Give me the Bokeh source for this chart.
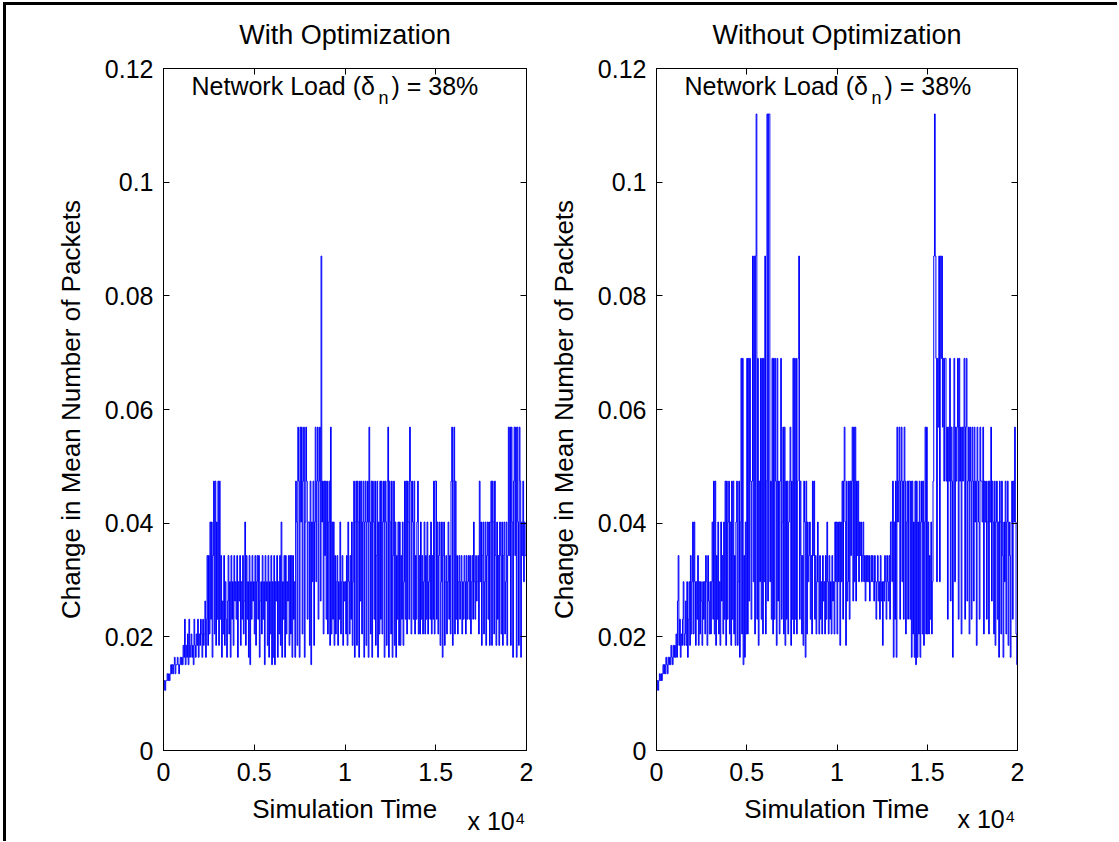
import numpy as np
from bokeh.plotting import figure
from bokeh.models import FixedTicker, LinearAxis, Label, Range1d
from bokeh.layouts import row
from bokeh.embed import file_html
from bokeh.resources import INLINE

# quantised levels of the change in mean number of packets
LEVELS = [0.0106, 0.0123, 0.0135, 0.0151, 0.0164, 0.0185, 0.0205, 0.0231, 0.0263,
          0.0297, 0.0343, 0.0402, 0.0474, 0.0569, 0.0690, 0.0870, 0.1120]

# level index per sample (25 samples per 1000 time units)
WITH_OPT_IDX = [
    0, 1, 0, 1, 1, 2, 1, 2, 1, 2, 3, 2, 3, 2, 3, 4, 2, 3, 3, 4, 3, 2, 3, 4, 3,
    4, 3, 5, 4, 7, 3, 5, 4, 6, 3, 7, 4, 5, 6, 4, 5, 3, 7, 5, 4, 6, 5, 7, 4, 6,
    5, 7, 6, 4, 7, 5, 6, 8, 4, 7, 10, 5, 10, 6, 11, 7, 11, 4, 10, 12, 6, 12, 5, 11, 7,
    12, 5, 12, 7, 10, 4, 8, 6, 10, 5, 9, 7, 4, 8, 10, 6, 9, 4, 10, 7, 9, 5, 10, 8, 9,
    7, 10, 4, 9, 8, 10, 5, 9, 7, 10, 6, 8, 11, 5, 10, 7, 9, 4, 10, 3, 9, 7, 10, 8, 9,
    6, 10, 5, 9, 10, 7, 10, 4, 8, 9, 6, 10, 7, 9, 3, 10, 8, 9, 5, 10, 4, 9, 6, 10, 3,
    9, 4, 10, 3, 9, 8, 10, 4, 9, 6, 10, 5, 11, 4, 9, 7, 10, 4, 10, 6, 9, 8, 10, 5, 10,
    6, 10, 4, 10, 7, 9, 4, 12, 11, 5, 13, 12, 4, 13, 11, 13, 6, 12, 13, 4, 11, 13, 12, 7, 11,
    11, 5, 12, 3, 11, 9, 12, 5, 11, 13, 9, 12, 13, 7, 12, 13, 8, 15, 11, 12, 6, 12, 10, 12, 7,
    12, 6, 11, 12, 5, 13, 6, 11, 7, 11, 5, 10, 6, 9, 10, 5, 9, 7, 11, 6, 9, 10, 5, 9, 8,
    9, 6, 10, 5, 11, 9, 6, 10, 7, 11, 5, 9, 12, 4, 11, 12, 5, 12, 11, 4, 12, 8, 12, 6, 11,
    12, 4, 11, 12, 5, 11, 12, 4, 13, 11, 6, 12, 4, 12, 11, 7, 12, 5, 10, 12, 4, 11, 6, 12, 7,
    12, 6, 11, 12, 4, 12, 11, 5, 12, 13, 4, 12, 11, 6, 12, 4, 10, 12, 5, 11, 4, 10, 7, 11, 5,
    11, 5, 10, 7, 11, 5, 9, 12, 7, 12, 6, 12, 11, 7, 13, 12, 6, 12, 11, 7, 12, 6, 10, 7, 11,
    12, 6, 10, 6, 11, 7, 10, 6, 9, 11, 6, 10, 7, 11, 6, 9, 10, 7, 11, 6, 10, 7, 12, 6, 12,
    12, 7, 11, 6, 10, 11, 5, 9, 11, 4, 10, 11, 5, 9, 10, 6, 9, 11, 7, 10, 6, 12, 13, 5, 12,
    13, 6, 12, 7, 10, 6, 9, 10, 7, 9, 10, 6, 9, 7, 10, 9, 6, 10, 7, 9, 10, 7, 10, 6, 9,
    10, 7, 11, 9, 7, 10, 8, 9, 10, 6, 12, 9, 11, 5, 10, 11, 6, 9, 11, 5, 10, 11, 7, 11, 5,
    11, 12, 5, 12, 11, 6, 12, 10, 5, 11, 7, 10, 5, 11, 10, 6, 11, 5, 10, 11, 6, 9, 11, 5, 10,
    13, 10, 13, 5, 13, 11, 4, 12, 13, 10, 13, 4, 13, 11, 5, 13, 12, 4, 11, 10, 12, 9, 11, 10, 10,
]

WITHOUT_OPT_IDX = [
    0, 1, 0, 1, 2, 1, 2, 1, 2, 3, 2, 3, 2, 4, 3, 2, 4, 3, 4, 3, 5, 4, 3, 5, 4,
    5, 4, 6, 4, 8, 10, 5, 7, 4, 6, 5, 7, 9, 5, 6, 8, 5, 9, 4, 7, 9, 5, 10, 6, 9,
    11, 6, 11, 9, 5, 9, 7, 10, 5, 9, 6, 9, 8, 5, 9, 7, 9, 6, 10, 9, 5, 10, 8, 6, 9,
    6, 9, 11, 7, 12, 6, 12, 5, 10, 7, 11, 6, 9, 5, 11, 8, 10, 6, 11, 7, 12, 5, 12, 7, 11,
    12, 6, 11, 5, 12, 7, 12, 6, 10, 5, 11, 12, 5, 9, 12, 4, 11, 14, 6, 14, 3, 10, 4, 11, 6,
    14, 6, 14, 8, 14, 12, 7, 12, 15, 9, 15, 6, 15, 16, 7, 14, 5, 12, 9, 14, 7, 14, 6, 14, 9,
    15, 6, 12, 16, 8, 16, 16, 9, 12, 7, 14, 6, 14, 7, 14, 12, 5, 14, 8, 12, 6, 12, 14, 7, 11,
    13, 6, 13, 5, 12, 7, 12, 6, 11, 12, 13, 5, 12, 7, 14, 6, 14, 7, 14, 6, 12, 14, 15, 7, 12,
    10, 6, 10, 5, 12, 11, 4, 12, 6, 11, 9, 10, 11, 7, 10, 6, 12, 10, 12, 7, 10, 6, 9, 11, 9,
    6, 10, 7, 9, 6, 10, 8, 9, 6, 10, 7, 11, 9, 6, 10, 7, 9, 6, 10, 8, 9, 6, 11, 9, 11,
    6, 11, 9, 11, 5, 11, 9, 12, 7, 12, 13, 11, 5, 12, 8, 9, 12, 7, 12, 10, 12, 13, 8, 13, 9,
    13, 8, 12, 10, 12, 9, 11, 10, 11, 9, 10, 11, 9, 10, 8, 10, 9, 10, 9, 10, 8, 9, 10, 9, 10,
    9, 8, 10, 9, 7, 9, 10, 8, 9, 7, 10, 8, 9, 5, 9, 8, 10, 9, 7, 10, 9, 8, 10, 7, 11,
    11, 9, 12, 4, 11, 7, 12, 4, 13, 11, 12, 13, 7, 12, 13, 9, 12, 7, 13, 12, 6, 11, 12, 7, 12,
    12, 7, 12, 4, 12, 6, 11, 4, 12, 3, 12, 4, 11, 6, 12, 4, 11, 12, 6, 12, 5, 11, 13, 6, 13,
    6, 11, 6, 10, 7, 11, 6, 9, 12, 15, 16, 15, 14, 9, 14, 13, 15, 9, 15, 14, 15, 13, 14, 12, 14,
    14, 12, 13, 7, 13, 12, 14, 8, 13, 12, 4, 13, 14, 9, 13, 12, 13, 14, 7, 14, 12, 13, 6, 13, 12,
    13, 14, 7, 13, 14, 8, 12, 13, 6, 13, 12, 7, 13, 12, 8, 13, 11, 12, 5, 13, 12, 11, 7, 13, 12,
    12, 11, 13, 6, 12, 11, 12, 7, 11, 12, 6, 12, 11, 13, 8, 12, 11, 6, 12, 5, 11, 12, 7, 11, 4,
    12, 11, 6, 12, 10, 4, 11, 9, 12, 6, 11, 12, 5, 11, 10, 4, 11, 12, 7, 12, 11, 13, 11, 6, 3,
]

T_END = 20000
X_TICKS = [0, 5000, 10000, 15000, 20000]
X_TICK_LABELS = ["0", "0.5", "1", "1.5", "2"]
Y_TICKS = [0, 0.02, 0.04, 0.06, 0.08, 0.10, 0.12]
Y_TICK_LABELS = ["0", "0.02", "0.04", "0.06", "0.08", "0.1", "0.12"]

TITLES = ["With Optimization", "Without Optimization"]
X_LABEL = "Simulation Time"
X_SCALE_NOTE = "x 10\u2074"
Y_LABEL = "Change in Mean Number of Packets"
FONT = "Liberation Sans"
FS = "25px"
NOTE_POS = 18347  # where the scale note sits under the x axis


def style_axis(ax):
    ax.major_tick_in = 6
    ax.major_tick_out = 0
    ax.minor_tick_line_color = None
    ax.axis_line_color = "black"
    ax.major_tick_line_color = "black"
    ax.major_label_text_font = FONT
    ax.major_label_text_font_size = FS
    ax.major_label_text_color = "black"
    ax.axis_label_text_font = FONT
    ax.axis_label_text_font_size = "26px"
    ax.axis_label_text_font_style = "normal"
    ax.axis_label_text_color = "black"


def make_panel(idx, title, width, bl, br, note_mode):
    vals = [LEVELS[i] for i in idx]
    n = len(vals)
    t = np.linspace(0, T_END, n + 1)
    y = vals + [vals[-1]]

    p = figure(width=width, height=836, output_backend="svg", toolbar_location=None,
               x_range=Range1d(0, T_END), y_range=Range1d(0, 0.12),
               min_border_left=bl, min_border_right=br, min_border_top=63,
               min_border_bottom=91)
    p.grid.visible = False
    p.outline_line_color = "black"
    p.outline_line_width = 1
    p.background_fill_color = "white"
    p.border_fill_color = "white"
    p.title.visible = False

    p.step(t, y, mode="after", line_color="#0000ff", line_width=1)

    xo = {v: s for v, s in zip(X_TICKS, X_TICK_LABELS)}
    yo = {v: s for v, s in zip(Y_TICKS, Y_TICK_LABELS)}
    for ax in p.xaxis:
        ax.ticker = FixedTicker(ticks=X_TICKS)
        ax.major_label_overrides = xo
        ax.major_label_standoff = 12
        ax.axis_label = X_LABEL
        ax.axis_label_standoff = 10
        style_axis(ax)
    for ax in p.yaxis:
        ax.ticker = FixedTicker(ticks=Y_TICKS)
        ax.major_label_overrides = yo
        ax.major_label_standoff = 10
        ax.axis_label = Y_LABEL
        ax.axis_label_standoff = 16
        style_axis(ax)

    top = LinearAxis(ticker=FixedTicker(ticks=X_TICKS), major_label_standoff=0,
                     major_label_overrides={v: "" for v in X_TICKS},
                     axis_label=title, axis_label_standoff=19)
    right = LinearAxis(ticker=FixedTicker(ticks=Y_TICKS), major_label_standoff=0,
                       major_label_overrides={v: "" for v in Y_TICKS})
    style_axis(top)
    style_axis(right)
    top.axis_label_text_font_size = "27px"
    p.add_layout(top, "above")
    p.add_layout(right, "right")

    def lab(x, y, text, size=FS, place=None):
        l = Label(x=x, y=y, x_units="screen", y_units="screen", text=text,
                  text_font=FONT, text_font_size=size, text_align="left",
                  text_baseline="alphabetic", text_color="black")
        if place is None:
            p.add_layout(l)
        else:
            p.add_layout(l, place)

    lab(28, 665, "Network Load (\u03b4")
    lab(215, 653, "n", size="18px")
    lab(228, 665, ") = 38%")

    if note_mode == "axis":
        note = LinearAxis(ticker=FixedTicker(ticks=[NOTE_POS]),
                          major_label_overrides={NOTE_POS: X_SCALE_NOTE})
        style_axis(note)
        note.axis_line_color = None
        note.major_tick_line_color = None
        note.major_label_standoff = -20
        p.add_layout(note, "below")
    else:
        lab(-60, -68, X_SCALE_NOTE, place="right")
    return p


p1 = make_panel(WITH_OPT_IDX, TITLES[0], 539, 157, 19, "axis")
p2 = make_panel(WITHOUT_OPT_IDX, TITLES[1], 572, 109, 100, "label")

layout = row(p1, p2, margin=(2, 0, 0, 3),
             styles={"border-top": "3px solid black", "border-left": "3px solid black"})

open("out.html", "w").write(file_html(layout, INLINE))
